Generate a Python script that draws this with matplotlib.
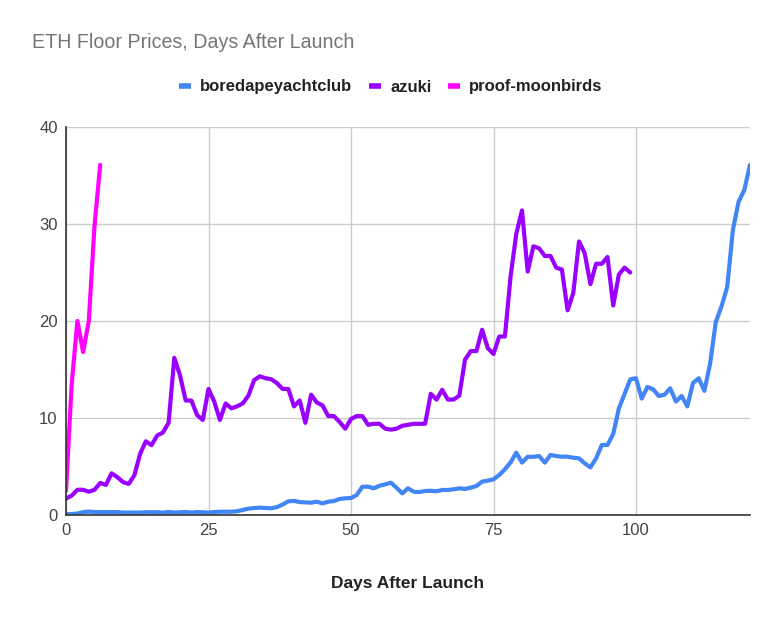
import matplotlib
matplotlib.use("Agg")
import matplotlib.pyplot as plt
import numpy as np

plt.rcParams['font.family'] = ['Liberation Sans', 'DejaVu Sans']

# floor prices in ETH, one value per day after launch
bayc = [0.1, 0.1, 0.15, 0.3, 0.35, 0.3, 0.3, 0.3, 0.3, 0.3,
        0.25, 0.25, 0.25, 0.25, 0.28, 0.28, 0.28, 0.25, 0.31, 0.25,
        0.28, 0.31, 0.25, 0.31, 0.28, 0.25, 0.31, 0.34, 0.34, 0.34,
        0.38, 0.52, 0.65, 0.72, 0.76, 0.72, 0.69, 0.82, 1.07, 1.41,
        1.45, 1.34, 1.3, 1.27, 1.37, 1.2, 1.37, 1.44, 1.65, 1.72,
        1.75, 2.06, 2.92, 2.92, 2.75, 3.02, 3.16, 3.33, 2.8, 2.23,
        2.75, 2.4, 2.37, 2.47, 2.5, 2.44, 2.58, 2.58, 2.65, 2.75,
        2.68, 2.82, 2.99, 3.44, 3.54, 3.68, 4.12, 4.71, 5.43, 6.43,
        5.4, 6.0, 6.0, 6.08, 5.4, 6.19, 6.08, 6.01, 6.01, 5.91,
        5.84, 5.33, 4.91, 5.84, 7.22, 7.22, 8.35, 11.0, 12.5, 13.99,
        14.1, 12.0, 13.2, 12.96, 12.27, 12.4, 13.06, 11.7, 12.27, 11.2,
        13.6, 14.1, 12.8, 15.6, 19.9, 21.5, 23.5, 29.4, 32.3, 33.5,
        36.1]

azuki = [1.7, 2.0, 2.6, 2.6, 2.4, 2.6, 3.3, 3.1, 4.3, 3.9,
         3.4, 3.2, 4.1, 6.3, 7.6, 7.2, 8.2, 8.5, 9.5, 16.2,
         14.4, 11.8, 11.8, 10.3, 9.8, 13.0, 11.7, 9.8, 11.5, 11.0,
         11.2, 11.5, 12.3, 13.9, 14.3, 14.1, 14.0, 13.6, 13.0, 13.0,
         11.2, 11.8, 9.5, 12.4, 11.6, 11.3, 10.2, 10.2, 9.6, 8.9,
         9.9, 10.2, 10.2, 9.3, 9.4, 9.4, 8.9, 8.8, 8.9, 9.2,
         9.3, 9.4, 9.4, 9.4, 12.5, 11.9, 12.9, 11.9, 11.9, 12.3,
         16.0, 16.9, 16.9, 19.1, 17.2, 16.6, 18.4, 18.4, 24.6, 29.0,
         31.4, 25.1, 27.7, 27.5, 26.7, 26.7, 25.5, 25.3, 21.1, 22.9,
         28.2, 27.0, 23.8, 25.9, 25.9, 26.6, 21.6, 24.8, 25.5, 25.0]

moonbirds = [2.5, 13.5, 20.0, 16.8, 20.0, 29.8, 36.1]

series = [
    ("boredapeyachtclub", bayc, "#4285f4"),
    ("azuki", azuki, "#9900ff"),
    ("proof-moonbirds", moonbirds, "#ff00ff"),
]

fig = plt.figure(figsize=(7.82, 6.22), dpi=100)
ax = fig.add_axes([66 / 782, 1 - 515 / 622, 684 / 782, 388 / 622])

for name, vals, color in series:
    ax.plot(np.arange(len(vals)), vals, color=color, lw=3, label=name,
            solid_joinstyle="round", solid_capstyle="round")

ax.set_xlim(0, 120)
ax.set_ylim(0, 40)
ax.set_xticks([0, 25, 50, 75, 100])
ax.set_yticks([0, 10, 20, 30, 40])
ax.grid(True, color="#cccccc", lw=1)
ax.set_axisbelow(True)
ax.tick_params(length=0, labelsize=12, labelcolor="#444444", pad=6)
for side in ["top", "right"]:
    ax.spines[side].set_visible(False)
for side in ["left", "bottom"]:
    ax.spines[side].set_color("#333333")
    ax.spines[side].set_linewidth(1.2)

ax.set_xlabel("Days After Launch", fontsize=12.5, color="#222222",
              fontweight="bold", labelpad=27)

fig.text(32 / 782, 1 - 43 / 622, "ETH Floor Prices, Days After Launch",
         fontsize=14.1, color="#757575", va="center", ha="left")

leg = fig.legend(loc="center", bbox_to_anchor=(0.5, 1 - 87 / 622), ncol=3,
                 frameon=False, fontsize=12, handlelength=0.72,
                 handletextpad=0.54, columnspacing=1.0)
for t in leg.get_texts():
    t.set_fontweight("bold")
    t.set_color("#222222")
for h in leg.legend_handles:
    h.set_linewidth(4)
    h.set_solid_capstyle("butt")

fig.savefig("out.png", dpi=100)
